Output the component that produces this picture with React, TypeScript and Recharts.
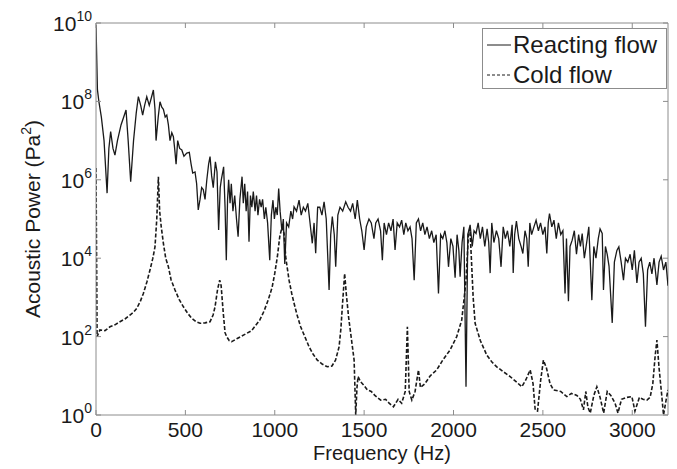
import { Line, LineChart, ReferenceLine, XAxis, YAxis } from "recharts"

// values as log10 of power (Pa^2)

const reactingFreq = [
  0, 8, 16, 30, 45, 62, 72, 82, 95, 106, 120, 140, 155, 168, 180, 194, 210, 225, 237, 250,
  261, 272, 284, 298, 310, 321, 330, 336, 348, 358, 368, 377, 387, 396, 405, 414, 424, 433, 440, 448,
  457, 468, 480, 492, 508, 522, 532, 541, 554, 563, 572, 582, 591, 600, 610, 620, 630, 638, 647, 656,
  668, 677, 686, 695, 701, 714, 722, 729, 736, 742, 750, 757, 766, 776, 786, 795, 805, 817, 824, 832,
  840, 848, 856, 864, 872, 880, 890, 898, 906, 915, 924, 932, 942, 950, 960, 972, 981, 990, 998, 1006,
  1014, 1022, 1030, 1040, 1048, 1056, 1066, 1078, 1090, 1100, 1108, 1122, 1136, 1148, 1160, 1172, 1185, 1195, 1210, 1220,
  1229, 1240, 1252, 1264, 1276, 1288, 1304, 1313, 1322, 1333, 1341, 1353, 1365, 1380, 1397, 1410, 1424, 1436, 1450, 1462,
  1475, 1487, 1500, 1512, 1527, 1540, 1555, 1565, 1578, 1592, 1602, 1612, 1625, 1637, 1650, 1662, 1673, 1685, 1698, 1710,
  1722, 1733, 1745, 1757, 1768, 1780, 1792, 1804, 1816, 1828, 1840, 1852, 1865, 1878, 1890, 1903, 1916, 1928, 1940, 1952,
  1963, 1972, 1985, 1997, 2009, 2020, 2030, 2037, 2048, 2058, 2070, 2080, 2093, 2105, 2115, 2126, 2138, 2150, 2162, 2175,
  2188, 2197, 2205, 2214, 2226, 2240, 2253, 2266, 2278, 2290, 2302, 2315, 2328, 2334, 2342, 2352, 2365, 2378, 2388, 2400,
  2410, 2418, 2427, 2437, 2450, 2462, 2475, 2487, 2500, 2512, 2522, 2530, 2537, 2550, 2562, 2575, 2587, 2600, 2612, 2624,
  2632, 2643, 2652, 2664, 2676, 2688, 2700, 2710, 2720, 2732, 2745, 2757, 2774, 2785, 2797, 2810, 2820, 2832, 2839, 2850,
  2860, 2870, 2888, 2900, 2914, 2925, 2938, 2951, 2962, 2975, 2988, 3000, 3012, 3026, 3038, 3050, 3062, 3074, 3086, 3098,
  3110, 3122, 3138, 3150, 3162, 3175, 3188, 3200,
]

const reactingLogPower = [
  9.95, 8.3, 8.0, 7.6, 7.0, 5.66, 6.8, 7.23, 6.8, 6.63, 7.0, 7.4, 7.6, 7.78, 7.0, 5.95, 7.0, 7.7, 8.12, 7.9,
  7.65, 7.9, 8.12, 7.9, 8.1, 8.29, 7.8, 7.0, 7.6, 7.99, 7.85, 7.8, 7.6, 7.65, 7.4, 7.0, 7.2, 7.1, 6.8, 6.4,
  7.0, 6.8, 6.76, 6.6, 6.68, 6.7, 6.4, 6.17, 6.2, 5.9, 5.23, 5.5, 5.8, 5.75, 5.5, 6.0, 6.4, 6.59, 6.1, 5.8,
  6.46, 6.2, 4.72, 5.8, 6.0, 6.33, 5.3, 3.95, 5.5, 6.0, 5.4, 5.9, 5.2, 5.6, 5.0, 4.55, 5.5, 6.08, 5.4, 5.9,
  5.2, 5.7, 4.42, 5.6, 5.3, 5.7, 5.2, 5.6, 5.1, 5.5, 5.3, 5.5, 5.0, 5.3, 4.9, 3.95, 5.1, 5.48, 5.0, 5.3,
  5.1, 5.78, 5.2, 4.7, 5.0, 3.85, 4.9, 4.8, 5.2, 5.0, 5.31, 5.2, 5.48, 5.1, 5.3, 5.2, 5.4, 5.0, 4.38, 4.9,
  4.13, 5.3, 5.3, 5.1, 5.44, 5.0, 3.19, 4.6, 5.06, 4.6, 3.78, 5.1, 5.3, 5.2, 5.44, 5.3, 5.2, 5.4, 5.0, 5.48,
  5.0, 4.7, 4.21, 4.8, 5.0, 4.9, 4.5, 4.9, 5.0, 4.7, 3.95, 4.9, 4.6, 4.9, 4.7, 5.0, 4.21, 4.9, 4.8, 4.97,
  4.6, 4.9, 4.7, 4.8, 4.5, 3.44, 4.9, 5.0, 4.7, 4.9, 4.6, 4.8, 4.5, 4.7, 4.4, 4.6, 3.1, 4.6, 4.5, 4.7,
  4.4, 3.78, 4.5, 4.3, 3.5, 4.6, 4.2, 3.53, 4.4, 4.8, 0.72, 4.6, 4.85, 4.3, 4.7, 4.63, 4.9, 4.5, 4.8, 4.3,
  4.75, 4.4, 3.62, 4.9, 4.4, 4.7, 4.5, 3.78, 4.8, 4.5, 4.7, 4.3, 4.85, 3.62, 4.6, 4.95, 4.5, 4.3, 4.12, 4.7,
  4.5, 3.78, 4.9, 4.6, 4.8, 4.97, 4.7, 4.9, 4.6, 4.8, 4.12, 4.9, 5.14, 4.8, 4.97, 4.5, 4.9, 4.6, 4.7, 3.1,
  4.5, 2.9, 4.3, 4.46, 4.7, 4.1, 4.6, 4.3, 4.63, 4.0, 4.4, 4.8, 2.93, 4.3, 4.0, 4.5, 4.75, 4.63, 3.19, 4.3,
  4.1, 3.8, 2.35, 3.9, 4.2, 4.29, 3.9, 3.44, 4.0, 3.9, 4.1, 3.7, 4.2, 3.37, 3.9, 4.0, 3.6, 2.25, 3.7, 3.9,
  3.6, 4.0, 3.32, 3.9, 4.05, 3.7, 3.9, 3.3,
]

const coldFreq = [
  0, 6, 22, 50, 78, 106, 134, 162, 190, 210, 228, 248, 265, 285, 302, 318, 330, 340, 349, 356,
  365, 377, 390, 405, 420, 442, 465, 489, 512, 535, 560, 582, 610, 638, 655, 666, 680, 692, 700, 712,
  722, 731, 745, 759, 790, 830, 870, 916, 940, 963, 985, 1000, 1015, 1028, 1041, 1052, 1062, 1080, 1095, 1108,
  1125, 1145, 1170, 1192, 1215, 1238, 1265, 1294, 1320, 1340, 1360, 1370, 1378, 1391, 1400, 1413, 1430, 1444, 1453, 1460,
  1466, 1480, 1500, 1518, 1540, 1560, 1593, 1620, 1640, 1664, 1690, 1710, 1730, 1742, 1752, 1767, 1785, 1804, 1815, 1840,
  1870, 1906, 1940, 1981, 2018, 2046, 2060, 2070, 2084, 2092, 2100, 2110, 2121, 2150, 2186, 2215, 2242, 2280, 2317, 2350,
  2382, 2405, 2429, 2445, 2457, 2470, 2488, 2503, 2520, 2540, 2559, 2600, 2634, 2660, 2690, 2710, 2727, 2740, 2752, 2765,
  2785, 2802, 2820, 2840, 2860, 2880, 2904, 2920, 2940, 2970, 2998, 3015, 3040, 3060, 3082, 3100, 3115, 3128, 3138, 3150,
  3165, 3175, 3190, 3200,
]

const coldLogPower = [
  6.3, 2.0, 2.17, 2.15, 2.25, 2.3, 2.38, 2.45, 2.55, 2.62, 2.72, 2.9, 3.1, 3.4, 3.7, 4.0, 4.29, 5.0, 6.08, 5.2,
  4.8, 4.38, 4.0, 3.78, 3.45, 3.19, 2.95, 2.76, 2.6, 2.47, 2.38, 2.34, 2.35, 2.38, 2.55, 2.76, 3.2, 3.44, 3.3, 2.6,
  2.1, 2.0, 1.9, 1.87, 1.95, 2.05, 2.15, 2.42, 2.65, 2.93, 3.25, 3.61, 4.05, 4.55, 4.8, 4.63, 4.0, 3.44, 3.1, 2.85,
  2.55, 2.25, 1.98, 1.74, 1.55, 1.4, 1.3, 1.23, 1.25, 1.4, 1.74, 2.2, 2.76, 3.61, 3.1, 2.5, 1.9, 1.4, 0.0, 0.7,
  0.98, 0.85, 0.75, 0.64, 0.6, 0.5, 0.38, 0.4, 0.3, 0.21, 0.4, 0.3, 0.6, 2.25, 0.6, 0.38, 0.6, 1.15, 0.7, 0.8,
  1.0, 1.15, 1.4, 1.66, 2.0, 2.42, 3.0, 3.44, 4.63, 4.75, 4.0, 3.0, 2.34, 1.9, 1.53, 1.35, 1.23, 1.1, 0.98, 0.85,
  0.72, 0.9, 1.15, 0.8, 0.13, 0.1, 0.9, 1.4, 1.2, 0.8, 0.64, 0.6, 0.47, 0.55, 0.5, 0.4, 0.13, 0.6, 0.2, 0.05,
  0.5, 0.72, 0.45, 0.05, 0.6, 0.5, 0.3, 0.05, 0.4, 0.45, 0.47, 0.1, 0.45, 0.4, 0.38, 0.45, 0.8, 1.5, 1.91, 1.2,
  0.5, 0.0, 0.4, 0.64,
]

const xTicks = [0, 500, 1000, 1500, 2000, 2500, 3000]
const yTicks = [1, 1e2, 1e4, 1e6, 1e8, 1e10]

const reactingRows = reactingFreq.map((f, i) => ({ f, p: 10 ** reactingLogPower[i] }))
const coldRows = coldFreq.map((f, i) => ({ f, p: 10 ** coldLogPower[i] }))

const W = 669
const H = 461
const Y_AXIS_W = 88
const X_AXIS_H = 54
const M = { top: 15, right: 9, bottom: 0, left: 0 }
const PW = W - Y_AXIS_W - M.right
const PH = H - M.top - X_AXIS_H
const FONT = "'Liberation Sans', Arial, sans-serif"
const AXIS = "#8c8c8c"
const INK = "#1a1a1a"

const XTick = ({ x, y, payload }: any) => (
  <g>
    <line x1={x} x2={x} y1={y} y2={y - 5} stroke={AXIS} />
    <line x1={x} x2={x} y1={y - PH} y2={y - PH + 5} stroke={AXIS} />
    <text x={x} y={y + 22} textAnchor="middle" fontSize={21} fontFamily={FONT} fill={INK}>
      {payload.value}
    </text>
  </g>
)

const YTick = ({ x, y, payload }: any) => {
  const exp = Math.round(Math.log10(payload.value))
  return (
    <g>
      <line x1={x} x2={x + 5} y1={y} y2={y} stroke={AXIS} />
      <line x1={x + PW} x2={x + PW - 5} y1={y} y2={y} stroke={AXIS} />
      <text x={x - 4} y={y + 8} textAnchor="end" fontSize={21} fontFamily={FONT} fill={INK}>
        10
        <tspan dy={-10} fontSize={14}>
          {exp}
        </tspan>
      </text>
    </g>
  )
}

export default function App() {
  return (
    <div style={{ position: "relative", width: W, height: H }}>
      <LineChart width={W} height={H} margin={M}>
        <XAxis
          type="number"
          dataKey="f"
          domain={[0, 3200]}
          ticks={xTicks}
          height={X_AXIS_H}
          tickSize={0}
          tickMargin={0}
          tick={<XTick />}
          stroke={AXIS}
          allowDataOverflow
          label={{
            content: () => (
              <text x={Y_AXIS_W + PW / 2} y={452} textAnchor="middle" fontSize={20} fontFamily={FONT} fill={INK}>
                Frequency (Hz)
              </text>
            ),
          }}
        />
        <YAxis
          scale="log"
          domain={[1, 1e10]}
          ticks={yTicks}
          width={Y_AXIS_W}
          tickSize={0}
          tickMargin={0}
          tick={<YTick />}
          stroke={AXIS}
          allowDataOverflow
          label={{
            content: () => (
              <text
                x={32}
                y={M.top + PH / 2}
                transform={`rotate(-90 32 ${M.top + PH / 2})`}
                textAnchor="middle"
                fontSize={21}
                fontFamily={FONT}
                fill={INK}
              >
                Acoustic Power (Pa
                <tspan dy={-9} fontSize={14}>
                  2
                </tspan>
                <tspan dy={9}>)</tspan>
              </text>
            ),
          }}
        />
        <ReferenceLine y={1e10} stroke={AXIS} ifOverflow="visible" />
        <ReferenceLine x={3200} stroke={AXIS} ifOverflow="visible" />
        <Line
          data={coldRows}
          dataKey="p"
          stroke={INK}
          strokeWidth={1.6}
          strokeDasharray="4 2"
          dot={false}
          type="linear"
          isAnimationActive={false}
        />
        <Line
          data={reactingRows}
          dataKey="p"
          stroke={INK}
          strokeWidth={1.3}
          dot={false}
          type="linear"
          isAnimationActive={false}
        />
      </LineChart>
      <div
        style={{
          position: "absolute",
          left: 474,
          top: 20,
          width: 185,
          height: 61,
          boxSizing: "border-box",
          border: `1px solid ${AXIS}`,
          background: "#fff",
          fontFamily: FONT,
          fontSize: 24,
          color: INK,
        }}
      >
        {[
          { name: "Reacting flow", dash: undefined },
          { name: "Cold flow", dash: "3 2" },
        ].map((s, i) => (
          <div
            key={s.name}
            style={{ position: "absolute", left: 4, top: 2 + i * 30, height: 28, display: "flex", alignItems: "center" }}
          >
            <svg width={24} height={10} style={{ marginRight: 2 }}>
              <line x1={0} x2={24} y1={5} y2={5} stroke={INK} strokeWidth={1} strokeDasharray={s.dash} />
            </svg>
            <span style={{ lineHeight: "28px", whiteSpace: "nowrap" }}>{s.name}</span>
          </div>
        ))}
      </div>
    </div>
  )
}
